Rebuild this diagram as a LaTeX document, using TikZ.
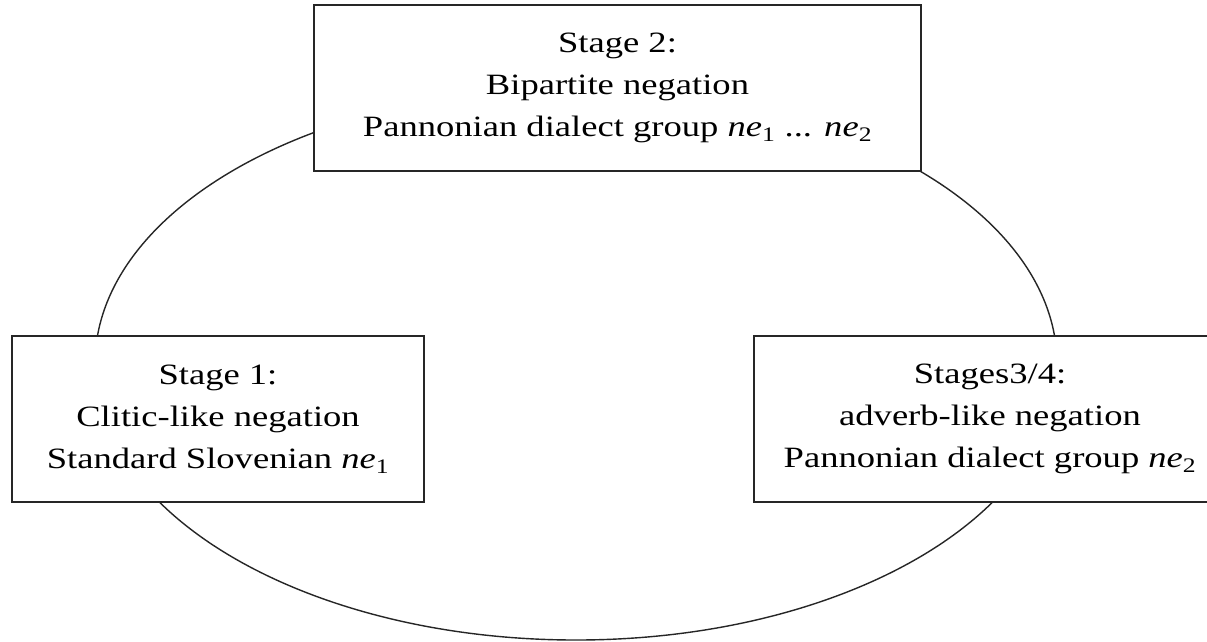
\documentclass[tikz,border=0pt]{standalone}
\usepackage{fontspec}
\setmainfont{Liberation Serif}[FakeStretch=1.24]
\begin{document}
\begin{tikzpicture}[x=1pt,y=-1pt,
  stagebox/.style={draw=black!85, line width=1.6pt, fill=white, align=center,
    inner sep=0pt, font=\fontsize{29.5}{42}\selectfont},
  cycleline/.style={draw=black!85, line width=1.4pt}]
\useasboundingbox (0,0) rectangle (1207,641);
\fill[white] (0,0) rectangle (1207,641);
\draw[cycleline] (576,364) ellipse [x radius=481pt, y radius=276pt];
\node[stagebox, minimum width=607pt, minimum height=166pt] (s2) at (617.5,88)
  {Stage 2:\\Bipartite negation\\Pannonian dialect group \textit{ne}\textsubscript{1} ... \textit{ne}\textsubscript{2}};
\node[stagebox, minimum width=412pt, minimum height=166pt] (s1) at (218,419)
  {Stage 1:\\Clitic-like negation\\Standard Slovenian \textit{ne}\textsubscript{1}};
\node[stagebox, minimum width=472pt, minimum height=166pt] (s3) at (990,419)
  {Stages3/4:\\adverb-like negation\\Pannonian dialect group \textit{ne}\textsubscript{2}};
\end{tikzpicture}
\end{document}
